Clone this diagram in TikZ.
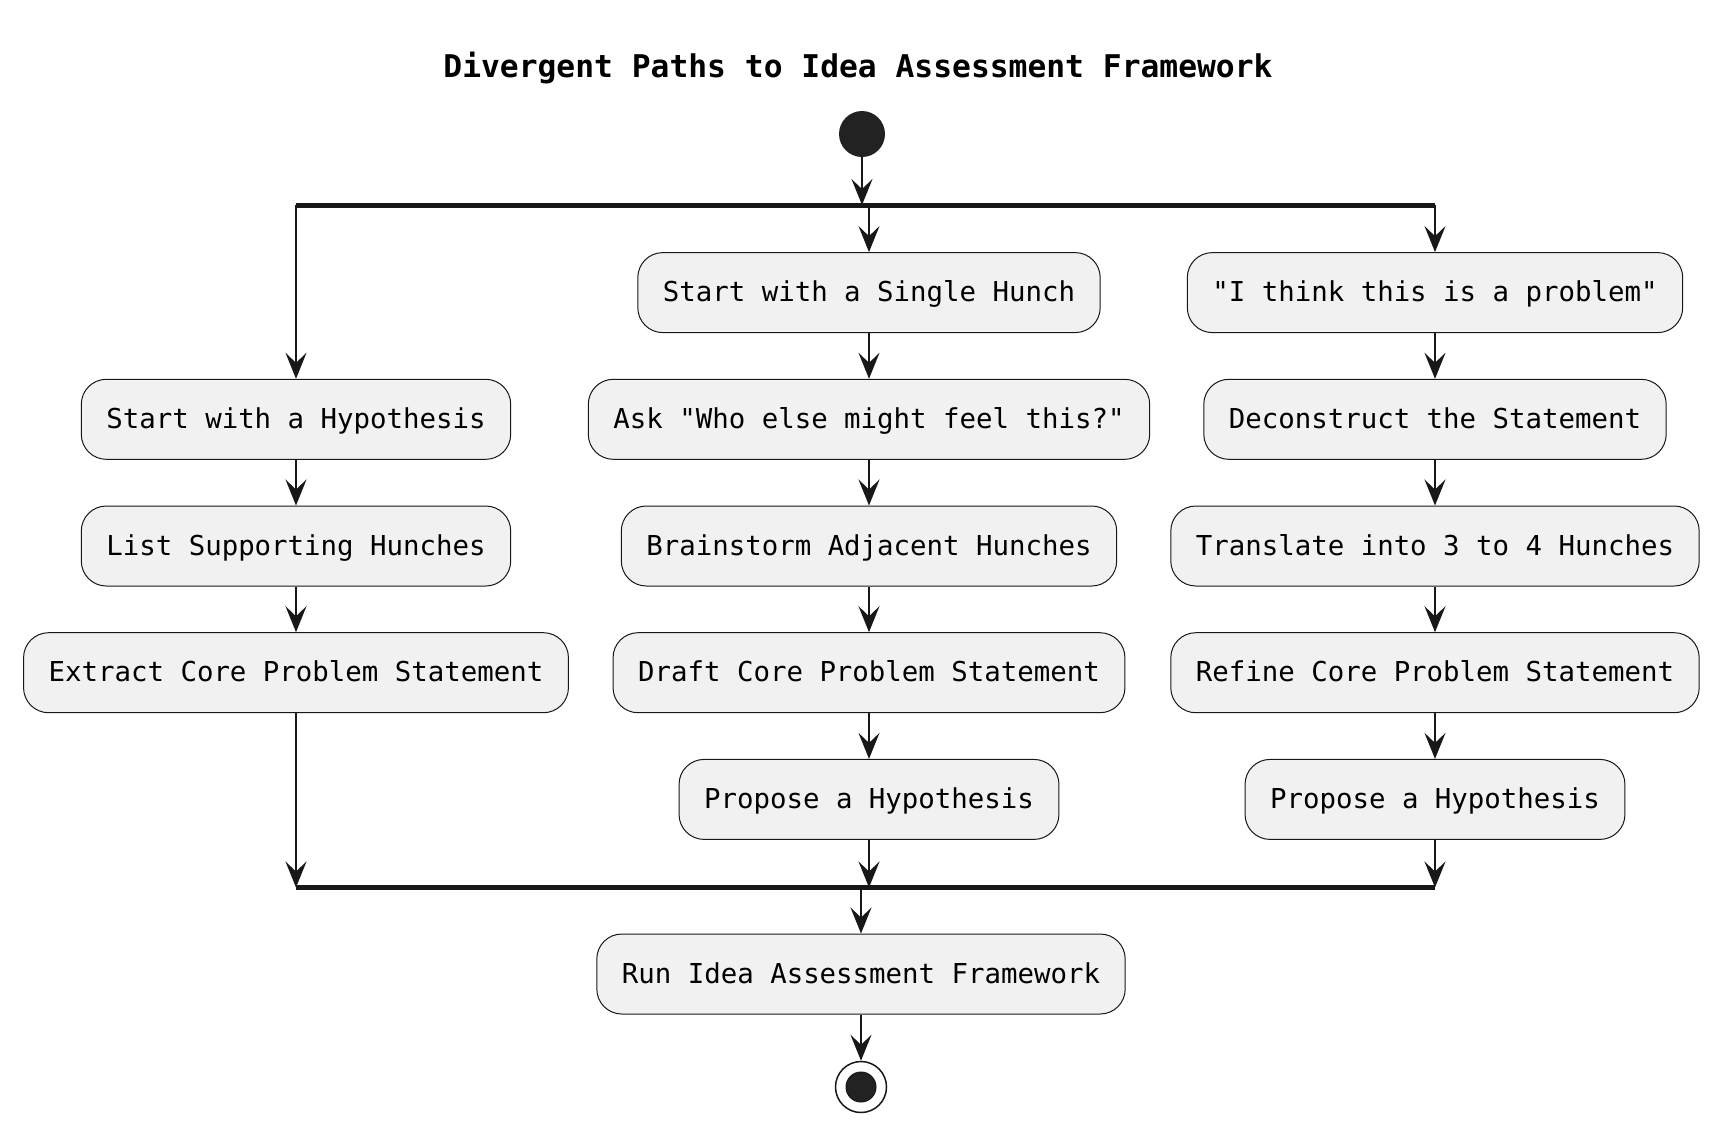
\documentclass[tikz,border=0pt]{standalone}
\usepackage{fontspec}
\setmonofont{DejaVu Sans Mono}
\usetikzlibrary{arrows.meta}
\definecolor{boxfill}{HTML}{F1F1F1}
\definecolor{ink}{HTML}{181818}
\definecolor{dot}{HTML}{222222}

\begin{document}
\begin{tikzpicture}[x=0.5pt,y=-0.5pt]
                \tikzstyle{every node}+=[font=\fontsize{13.7}{16}\selectfont\ttfamily, text=black]
                \tikzstyle{act}=[draw=ink, fill=boxfill, line width=0.5pt, rounded corners=12.5pt, minimum height=40pt, inner xsep=12.5pt, inner ysep=0pt, text height=11pt, text depth=2pt]
                \tikzstyle{flow}=[draw=ink, line width=1pt, -{Stealth[length=13pt, width=10.5pt, inset=5pt]}]
                \tikzstyle{bar}=[draw=ink, line width=2.5pt]
                \useasboundingbox (0,0) rectangle (1720,1137);
                \node (title) at (858,68) {\fontsize{15.65}{18}\selectfont\bfseries Divergent Paths to Idea Assessment Framework};
                \node [circle, fill=dot, minimum size=23pt, inner sep=0pt] (start) at (862,134) {};
                \coordinate (forkL) at (296,205);
                \coordinate (forkM) at (862,205);
                \coordinate (forkC) at (869,205);
                \coordinate (forkR) at (1435,205);
                \draw [bar] (forkL) -- (forkR);
                \node [act] (hyp) at (296,419.3) {Start with a Hypothesis};
                \node [act] (list) at (296,546) {List Supporting Hunches};
                \node [act] (extract) at (296,672.7) {Extract Core Problem Statement};
                \node [act] (hunch) at (869,292.6) {Start with a Single Hunch};
                \node [act] (ask) at (869,419.3) {Ask "Who else might feel this?"};
                \node [act] (brain) at (869,546) {Brainstorm Adjacent Hunches};
                \node [act] (draft) at (869,672.7) {Draft Core Problem Statement};
                \node [act] (propA) at (869,799.4) {Propose a Hypothesis};
                \node [act] (think) at (1435,292.6) {"I think this is a problem"};
                \node [act] (decon) at (1435,419.3) {Deconstruct the Statement};
                \node [act] (trans) at (1435,546) {Translate into 3 to 4 Hunches};
                \node [act] (refine) at (1435,672.7) {Refine Core Problem Statement};
                \node [act] (propB) at (1435,799.4) {Propose a Hypothesis};
                \coordinate (joinL) at (296,887.5);
                \coordinate (joinC) at (869,887.5);
                \coordinate (joinM) at (861,887.5);
                \coordinate (joinR) at (1435,887.5);
                \draw [bar] (joinL) -- (joinR);
                \node [act] (run) at (861,974) {Run Idea Assessment Framework};
                \node [circle, draw=ink, fill=white, line width=0.75pt, minimum size=25.5pt, inner sep=0pt] (stop) at (861,1087) {};
                \node [circle, fill=dot, draw=ink, line width=0.5pt, minimum size=15pt, inner sep=0pt] (stopdot) at (stop) {};
                \draw [flow] (start) -- (forkM);
                \draw [flow] (forkL) -- (hyp);
                \draw [flow] (forkC) -- (hunch);
                \draw [flow] (forkR) -- (think);
                \draw [flow] (hyp) -- (list);
                \draw [flow] (list) -- (extract);
                \draw [flow] (hunch) -- (ask);
                \draw [flow] (ask) -- (brain);
                \draw [flow] (brain) -- (draft);
                \draw [flow] (draft) -- (propA);
                \draw [flow] (think) -- (decon);
                \draw [flow] (decon) -- (trans);
                \draw [flow] (trans) -- (refine);
                \draw [flow] (refine) -- (propB);
                \draw [flow] (extract) -- (joinL);
                \draw [flow] (propA) -- (joinC);
                \draw [flow] (propB) -- (joinR);
                \draw [flow] (joinM) -- (run);
                \draw [flow] (run) -- (stop);
                \end{tikzpicture}
\end{document}
